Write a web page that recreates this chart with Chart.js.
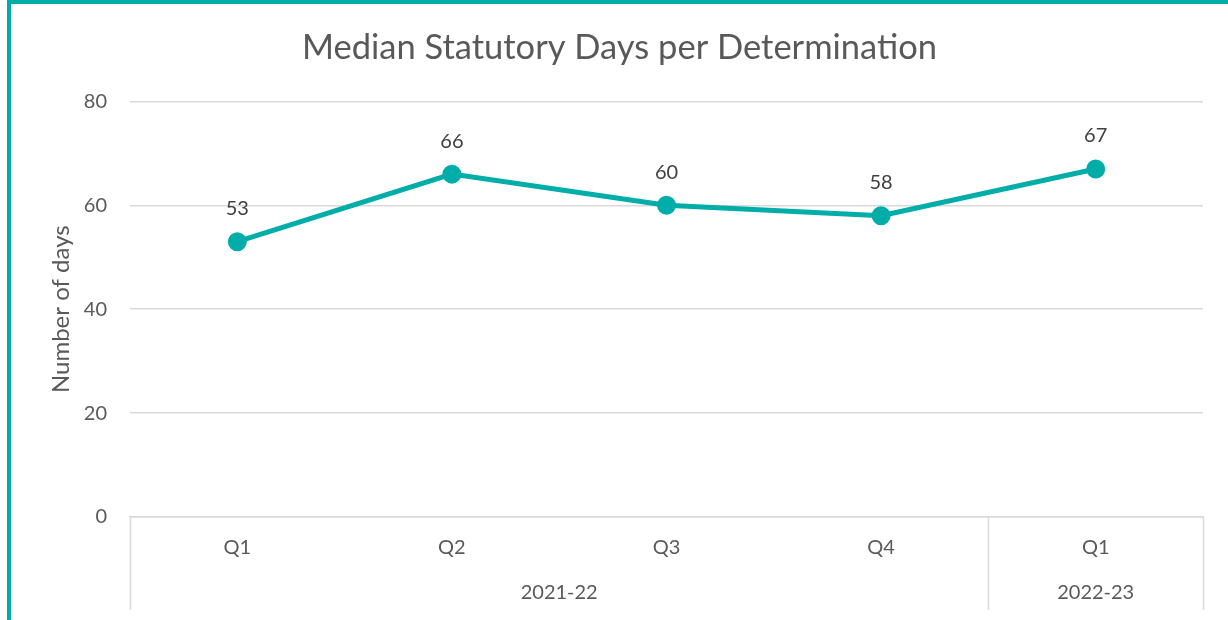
<!DOCTYPE html>
<html>
<head>
<meta charset="utf-8">
<script src="https://cdn.jsdelivr.net/npm/chart.js@4"></script>
<style>
  html, body { margin: 0; padding: 0; background: #fff; overflow: hidden; }
  #frame {
    position: absolute; left: 7px; top: 0;
    width: 1221px; height: 620px;
    border-left: 4px solid #00ADA8; border-top: 4px solid #00ADA8;
    box-sizing: border-box;
  }
  #wrap { position: relative; width: 1217px; height: 616px; }
</style>
</head>
<body>
<div id="frame"><div id="wrap"><canvas id="chart"></canvas></div></div>
<script>
const quarters = ['Q1', 'Q2', 'Q3', 'Q4', 'Q1']
const years = ['2021-22', '2021-22', '2021-22', '2021-22', '2022-23']
const medianDays = [53, 66, 60, 58, 67]
const yTicks = [0, 20, 40, 60, 80]

const teal = '#00ADA8'
const grey = '#595959'
const gridGrey = '#d9d9d9'
const fontName = 'Lato, "Open Sans", sans-serif'

// value labels above each point
const pointLabels = {
    id: 'pointLabels',
    afterDatasetsDraw(chart) {
        const ctx = chart.ctx
        const meta = chart.getDatasetMeta(0)
        ctx.save()
        ctx.font = '20px ' + fontName
        ctx.fillStyle = '#404040'
        ctx.textAlign = 'center'
        ctx.textBaseline = 'middle'
        meta.data.forEach((pt, i) => {
            ctx.fillText(medianDays[i], pt.x, pt.y - 33)
        })
        ctx.restore()
    }
}

// second row of the category axis: year groups and separators
const yearGroups = {
    id: 'yearGroups',
    afterDraw(chart) {
        const ctx = chart.ctx
        const x = chart.scales.x
        const top = chart.chartArea.bottom
        const bottom = top + 93
        const groups = []
        years.forEach((y, i) => {
            const last = groups[groups.length - 1]
            if (last && last.name === y) last.end = i
            else groups.push({ name: y, start: i, end: i })
        })
        ctx.save()
        ctx.strokeStyle = gridGrey
        ctx.lineWidth = 1.5
        const edges = [groups[0].start - 0.5].concat(groups.map(g => g.end + 0.5))
        edges.forEach(v => {
            const px = Math.round(x.getPixelForValue(v)) + 0.5
            ctx.beginPath()
            ctx.moveTo(px, top)
            ctx.lineTo(px, bottom)
            ctx.stroke()
        })
        ctx.font = '20px ' + fontName
        ctx.fillStyle = grey
        ctx.textAlign = 'center'
        ctx.textBaseline = 'middle'
        groups.forEach(g => {
            const cx = (x.getPixelForValue(g.start) + x.getPixelForValue(g.end)) / 2
            ctx.fillText(g.name, cx, top + 76)
        })
        ctx.restore()
    }
}

const ctx = document.getElementById('chart').getContext('2d')
const myChart = new Chart(ctx, {
    type: 'line',
    data: {
        labels: quarters,
        datasets: [{
            label: 'Median statutory days',
            data: medianDays,
            borderColor: teal,
            backgroundColor: teal,
            borderWidth: 5,
            pointRadius: 7,
            pointHoverRadius: 7,
            tension: 0
        }]
    },
    options: {
        responsive: true,
        maintainAspectRatio: false,
        animation: false,
        layout: { padding: 0 },
        plugins: {
            legend: { display: false },
            tooltip: { enabled: false },
            title: {
                display: true,
                text: 'Median Statutory Days per Determination',
                color: grey,
                font: { family: fontName, size: 34.5, weight: 'normal' },
                padding: { top: 23, bottom: 33 }
            }
        },
        scales: {
            x: {
                offset: true,
                grid: { display: false, drawTicks: false },
                border: { display: true, color: gridGrey, width: 1.5 },
                ticks: {
                    color: grey,
                    font: { family: fontName, size: 20 },
                    padding: 19
                },
                afterFit(scale) { scale.height = 103 }
            },
            y: {
                min: 0,
                max: 80,
                afterBuildTicks(scale) { scale.ticks = yTicks.map(v => ({ value: v })) },
                grid: { color: gridGrey, lineWidth: 1.5, drawTicks: false },
                border: { display: false },
                ticks: {
                    color: grey,
                    font: { family: fontName, size: 20 },
                    padding: 23
                },
                title: {
                    display: true,
                    text: 'Number of days',
                    color: grey,
                    font: { family: fontName, size: 24 },
                    padding: { top: 36, bottom: 0 }
                },
                afterFit(scale) { scale.width = 119 }
            },
            // empty right margin so the title stays centred on the whole frame
            yRight: {
                position: 'right',
                grid: { display: false, drawTicks: false },
                border: { display: false },
                ticks: { display: false },
                afterFit(scale) { scale.width = 25 }
            }
        }
    },
    plugins: [pointLabels, yearGroups]
})
</script>
</body>
</html>
